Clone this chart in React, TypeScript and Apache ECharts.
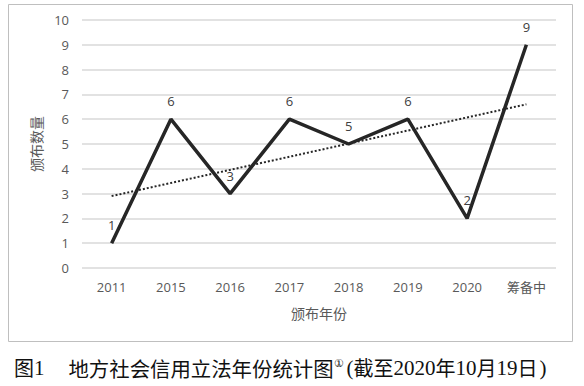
import React, { useEffect, useRef } from "react";
import * as echarts from "echarts";

const categories = ["2011", "2015", "2016", "2017", "2018", "2019", "2020", "筹备中"];
const counts = [1, 6, 3, 6, 5, 6, 2, 9];
const trendValues = [2.9, null, null, null, null, null, null, 6.6];
const yAxisName = "颁布数量";
const xAxisName = "颁布年份";

const SANS = "'Noto Sans CJK SC', sans-serif";
const SERIF = "'Liberation Serif', 'DejaVu Serif', serif";

export default function App() {
  const ref = useRef<HTMLDivElement>(null);
  useEffect(() => {
    if (!ref.current) return;
    const chart = echarts.init(ref.current, null, { renderer: "svg" });
    const cap = (s: string, k: string) => "{" + k + "|" + s + "}";
    chart.setOption({
      animation: false,
      backgroundColor: "#ffffff",
      grid: { left: 82, right: 28, top: 20, bottom: 118 },
      xAxis: {
        type: "category",
        data: categories,
        boundaryGap: true,
        axisLine: { show: false },
        axisTick: { show: false },
        axisLabel: {
          color: "#595959",
          fontSize: 13,
          fontFamily: "'Open Sans', 'Noto Sans CJK SC', sans-serif",
          margin: 12,
        },
        name: xAxisName,
        nameLocation: "middle",
        nameGap: 38,
        nameTextStyle: { color: "#595959", fontSize: 14, fontFamily: SANS },
      },
      yAxis: {
        type: "value",
        min: 0,
        max: 10,
        interval: 1,
        axisLine: { show: false },
        axisTick: { show: false },
        splitLine: { lineStyle: { color: "#d9d9d9", width: 1.5 } },
        axisLabel: {
          color: "#595959",
          fontSize: 13,
          fontFamily: "'Open Sans', sans-serif",
          margin: 13,
        },
        name: yAxisName,
        nameLocation: "middle",
        nameGap: 38,
        nameRotate: 90,
        nameTextStyle: { color: "#595959", fontSize: 14, fontFamily: SANS },
      },
      series: [
        {
          type: "line",
          data: counts,
          symbol: "circle",
          symbolSize: 1,
          showSymbol: true,
          itemStyle: { color: "rgba(0,0,0,0)" },
          lineStyle: { color: "#262626", width: 3.5 },
          label: {
            show: true,
            position: "top",
            distance: 11,
            color: "#404040",
            fontSize: 13,
            fontFamily: "'Open Sans', sans-serif",
          },
          z: 3,
        },
        {
          type: "line",
          data: trendValues,
          connectNulls: true,
          symbol: "none",
          lineStyle: { color: "#262626", width: 2, type: [2, 2] },
          z: 2,
        },
      ],
      graphic: [
        {
          type: "rect",
          shape: { x: 8.5, y: 4.5, width: 564, height: 337 },
          style: { fill: "none", stroke: "#bfbfbf", lineWidth: 1 },
          silent: true,
        },
        {
          type: "text",
          left: 14,
          top: 357,
          style: {
            text:
              cap("图", "h") +
              cap("1", "d") +
              cap("地方社会信用立法年份统计图", "hg") +
              cap("①", "s") +
              cap("(", "p") +
              cap("截至", "h") +
              cap("2020", "d") +
              cap("年", "h") +
              cap("10", "d") +
              cap("月", "h") +
              cap("19", "d") +
              cap("日", "h") +
              cap(")", "pr"),
            rich: {
              h: { fontSize: 20, fill: "#111111", fontFamily: SANS },
              hg: { fontSize: 20.4, fill: "#111111", fontFamily: SANS, padding: [0, 0, 0, 24] },
              d: { fontSize: 21, fill: "#111111", fontFamily: SERIF },
              p: { fontSize: 21, fill: "#111111", fontFamily: SERIF, padding: [0, 0, 0, 3] },
              pr: { fontSize: 21, fill: "#111111", fontFamily: SERIF, padding: [0, 0, 0, 2] },
              s: {
                fontSize: 11,
                fill: "#111111",
                fontFamily: SERIF,
                verticalAlign: "top",
                padding: [0, 0, 8, 0],
              },
            },
          },
        },
      ],
    });
    return () => chart.dispose();
  }, []);
  return (
    <div
      ref={ref}
      style={{ position: "fixed", left: 0, top: 0, width: 584, height: 386 }}
    />
  );
}
